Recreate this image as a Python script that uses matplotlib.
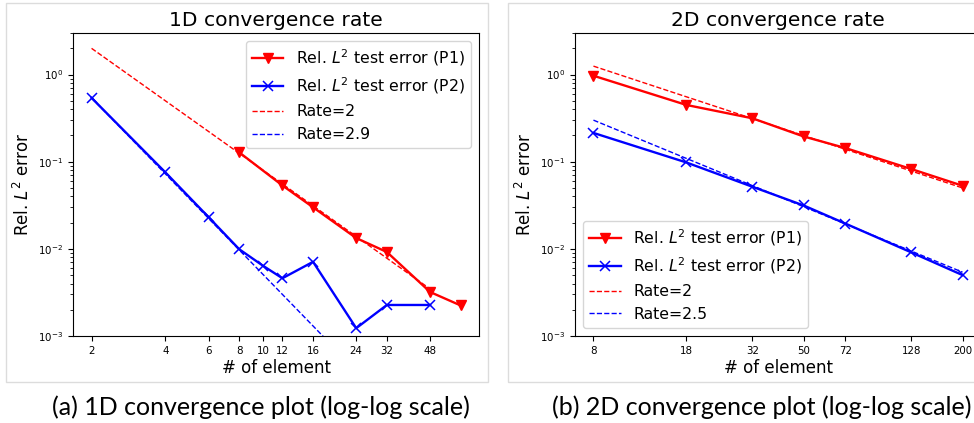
import matplotlib
matplotlib.use("Agg")
import matplotlib.pyplot as plt
from matplotlib.patches import Rectangle
from matplotlib.ticker import NullLocator

# 1D convergence data
x1_p1 = [8, 12, 16, 24, 32, 48, 64]
err1_p1 = [0.128, 0.0534, 0.030, 0.0133, 0.0092, 0.0032, 0.00224]
x1_p2 = [2, 4, 6, 8, 10, 12, 16, 24, 32, 48]
err1_p2 = [0.54, 0.0754, 0.0231, 0.0099, 0.0064, 0.0046, 0.0071, 0.00123, 0.00227, 0.00227]
rate1_x = [2, 48]
rate1_p1 = [2.0, 0.00347]      # Rate=2
rate1_p2 = [0.54, 5.4e-5]      # Rate=2.9
ticks1 = [2, 4, 6, 8, 10, 12, 16, 24, 32, 48]

# 2D convergence data
x2 = [8, 18, 32, 50, 72, 128, 200]
err2_p1 = [0.97, 0.448, 0.315, 0.195, 0.1435, 0.0824, 0.053]
err2_p2 = [0.214, 0.098, 0.0516, 0.0315, 0.0195, 0.0091, 0.005]
rate2_x = [8, 200]
rate2_p1 = [1.25, 0.05]        # Rate=2
rate2_p2 = [0.30, 0.0054]      # Rate=2.5
ticks2 = [8, 18, 32, 50, 72, 128, 200]

W, H = 974, 423
fig = plt.figure(figsize=(W / 100, H / 100), dpi=100)

# grey panel frames around each plot
for x0, w in [(6, 481.5), (508, 500)]:
    fig.patches.append(Rectangle((x0 / W, (H - 382) / H), w / W, 378.5 / H,
                                 transform=fig.transFigure, fill=False,
                                 edgecolor="#dcdcdc", linewidth=1.0))

ax1 = fig.add_axes([73 / W, (H - 336) / H, 406 / W, 303 / H])
ax2 = fig.add_axes([575 / W, (H - 336) / H, 406 / W, 303 / H])


def draw(ax, xa, ya, xb, yb, rx, ra, rb, rate_b, ticks, title, loc):
    ax.plot(xa, ya, "-v", color="red", lw=1.7, ms=7,
            label=r"Rel. $L^2$ test error (P1)")
    ax.plot(xb, yb, "-x", color="blue", lw=1.7, ms=7, mew=1.1,
            label=r"Rel. $L^2$ test error (P2)")
    ax.plot(rx, ra, "--", color="red", lw=1.0, label="Rate=2")
    ax.plot(rx, rb, "--", color="blue", lw=1.0, label="Rate=" + rate_b)
    ax.set_xscale("log")
    ax.set_yscale("log")
    ax.set_ylim(1e-3, 3)
    ax.set_xticks(ticks)
    ax.set_xticklabels([str(t) for t in ticks])
    ax.xaxis.set_minor_locator(NullLocator())
    ax.tick_params(labelsize=7.4)
    ax.set_xlabel("# of element", fontsize=12, labelpad=2)
    ax.set_ylabel(r"Rel. $L^2$ error", fontsize=12)
    ax.set_title(title, fontsize=14.6, pad=5)
    ax.legend(loc=loc, fontsize=11.3)


draw(ax1, x1_p1, err1_p1, x1_p2, err1_p2, rate1_x, rate1_p1, rate1_p2, "2.9",
     ticks1, "1D convergence rate", "upper right")
ax1.set_xlim(1.68, 76)
draw(ax2, x2, err2_p1, x2, err2_p2, rate2_x, rate2_p1, rate2_p2, "2.5",
     ticks2, "2D convergence rate", "lower left")

fig.text(261 / W, (H - 407) / H, "(a) 1D convergence plot (log-log scale)",
         ha="center", va="center", fontsize=18, family="Lato")
fig.text(762 / W, (H - 407) / H, "(b) 2D convergence plot (log-log scale)",
         ha="center", va="center", fontsize=18, family="Lato")

fig.savefig("out.png", dpi=100)
